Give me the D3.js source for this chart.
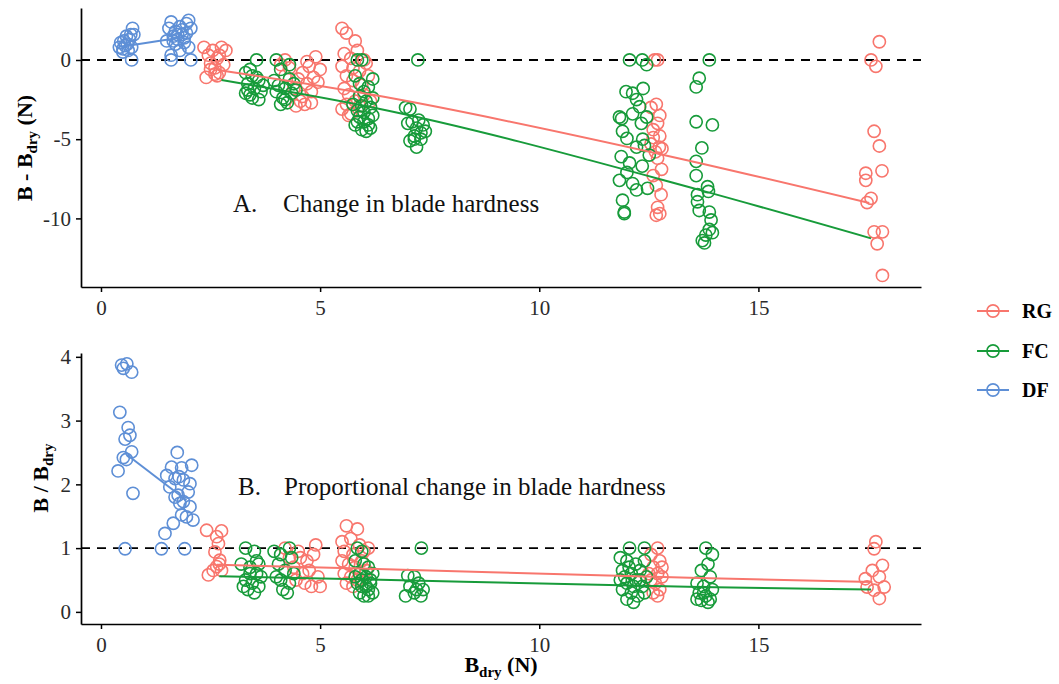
<!DOCTYPE html>
<html>
<head>
<meta charset="utf-8">
<script src="https://cdn.jsdelivr.net/npm/d3@7"></script>
<style>
  body { margin:0; background:#fff }
  text { font-family:"Liberation Serif","Times New Roman",serif }
</style>
</head>
<body>
<svg id="chart" width="1059" height="684"></svg>
<script>
// groups, in drawing order
var groups = ['RG', 'FC', 'DF']
var colors = { RG:'#f8766d', FC:'#179b3a', DF:'#5e8fd6' }

var xTicks  = [0, 5, 10, 15]
var yTicksA = [-10, -5, 0]
var yTicksB = [0, 1, 2, 3, 4]

// panel A: B - Bdry, [Bdry, change]
var rgChange = [
  [2.35,0.8],[2.45,0.3],[2.5,-0.2],[2.55,0.6],[2.6,-0.5],[2.65,0.1],[2.7,-0.8],[2.75,0.8],[2.4,-1.1],[2.6,-0.9],
  [2.7,0.3],[2.8,-0.3],[2.5,-0.6],[2.85,0.6],[2.65,-1.0],
  [4.1,-0.3],[4.2,-1.0],[4.3,-0.5],[4.4,-1.8],[4.5,-1.2],[4.55,-2.6],[4.6,-0.8],[4.65,-2.8],[4.7,-1.5],[4.75,-0.4],
  [4.8,-2.0],[4.85,-1.1],[4.9,0.2],[4.95,-1.4],[5.0,-0.6],[4.6,-2.3],[4.45,-2.9],[4.8,-2.7],[4.2,0.0],[4.7,-0.1],
  [5.5,2.0],[5.6,1.7],[5.8,1.2],[5.55,0.4],[5.7,0.1],[5.85,0.6],[5.5,-0.4],[5.6,-1.0],[5.75,-1.3],[5.9,-0.7],
  [5.55,-1.8],[5.65,-2.2],[5.8,-2.6],[5.95,-1.6],[5.5,-3.1],[5.7,-3.4],[5.9,-2.9],[6.0,-2.2],[6.05,-0.2],[6.1,-1.0],
  [6.15,-2.6],[5.6,-2.8],[5.75,-0.5],[6.0,0.0],[5.65,-3.5],
  [12.63,0.0],[12.7,0.0],[12.67,-2.8],[12.55,-3.0],[12.75,-3.5],[12.7,-4.0],[12.6,-4.4],[12.75,-4.8],[12.74,-5.5],[12.55,-5.3],
  [12.65,-5.8],[12.7,-6.2],[12.79,-6.9],[12.6,-7.3],[12.67,-7.9],[12.78,-8.5],[12.7,-9.3],[12.67,-9.8],[12.75,-9.7],[12.6,-4.9],
  [12.8,-5.6],
  [17.76,1.15],[17.57,0.0],[17.68,-0.4],[17.64,-4.5],[17.76,-5.43],[17.82,-7.0],[17.45,-7.15],[17.45,-7.6],[17.57,-8.73],[17.48,-9.0],
  [17.83,-10.85],[17.64,-10.85],[17.71,-11.6],[17.83,-13.6]
]
var fcChange = [
  [3.3,-0.8],[3.35,-1.5],[3.4,-2.2],[3.45,-1.0],[3.5,-1.8],[3.55,0.0],[3.6,-1.3],[3.65,-2.0],[3.45,-2.4],[3.3,-2.1],
  [3.55,-1.1],[3.7,-1.6],[3.4,-0.6],[3.6,-2.5],[3.35,-1.9],
  [3.95,-1.3],[4.0,-2.0],[4.05,-1.6],[4.1,-0.6],[4.15,-2.4],[4.2,-1.8],[4.25,-2.7],[4.3,-1.2],[4.35,-2.1],[4.4,-1.5],
  [4.1,-2.8],[4.3,-0.3],[4.0,0.0],[4.2,-2.5],[4.45,-1.9],
  [5.85,0.0],[5.95,0.0],[5.8,-1.0],[5.9,-1.5],[6.0,-2.0],[6.1,-1.7],[6.05,-2.6],[5.95,-2.9],[5.85,-3.2],[6.15,-3.0],
  [6.2,-3.5],[5.9,-3.6],[6.0,-3.9],[6.1,-4.1],[5.8,-4.1],[5.95,-4.4],[6.05,-4.5],[6.15,-4.3],[6.2,-2.4],[5.75,-2.8],
  [6.1,-3.7],[5.9,-2.3],[6.0,-3.3],[5.85,-3.9],[6.2,-1.2],
  [6.95,-3.0],[7.05,-3.1],[7.1,-3.9],[7.2,-4.3],[7.3,-4.6],[7.15,-4.8],[7.05,-5.1],[7.2,-5.5],[7.35,-4.1],[7.4,-4.5],
  [7.25,-3.8],[7.0,-4.0],[7.15,-5.0],[7.3,-5.0],[7.23,0.0],
  [12.06,0.0],[12.35,0.0],[12.45,-0.3],[11.98,-2.0],[12.13,-2.1],[12.37,-1.8],[12.22,-2.5],[12.29,-2.95],[12.13,-3.4],[11.88,-3.7],
  [12.45,-3.6],[12.33,-4.0],[11.9,-4.5],[12.0,-4.95],[12.36,-5.0],[12.22,-5.5],[12.51,-6.0],[11.87,-6.1],[12.06,-6.5],[11.83,-7.6],
  [12.13,-7.8],[12.47,-8.1],[11.9,-8.85],[11.94,-9.6],[12.22,-8.2],[12.0,-7.1],[12.35,-6.7],[11.83,-3.6],[11.94,-9.7],[12.4,-5.4],
  [13.88,0.0],[13.65,-1.15],[13.58,-1.7],[13.58,-3.9],[13.95,-4.1],[13.71,-5.55],[13.58,-6.4],[13.58,-7.3],[13.84,-8.0],[13.86,-8.3],
  [13.61,-8.95],[13.65,-9.5],[13.88,-9.6],[13.92,-10.1],[13.88,-10.7],[13.72,-11.4],[13.77,-11.55],[13.8,-11.05],[13.95,-10.9],[13.61,-8.5]
]
var dfChange = [
  [0.42,0.8],[0.45,1.1],[0.5,0.7],[0.52,1.2],[0.55,0.9],[0.58,1.5],[0.6,1.0],[0.62,0.6],[0.65,1.3],[0.68,1.6],
  [0.7,0.8],[0.72,2.0],[0.75,1.6],[0.7,0.0],[0.5,0.5],
  [1.5,1.2],[1.55,2.0],[1.6,2.4],[1.6,0.3],[1.6,0.0],[1.65,1.5],[1.7,1.0],[1.7,1.8],[1.75,1.3],[1.8,2.1],
  [1.8,0.6],[1.85,1.6],[1.9,1.1],[1.95,2.3],[1.95,1.7],[2.0,2.5],[2.0,0.8],[2.05,2.0],[2.05,0.0],[1.75,1.6],
  [1.85,1.9],[1.65,1.2],[1.9,1.4]
]
var rgFitA = [[2.67,-0.63],[6.2,-2.2],[13.04,-6.12],[17.53,-9.03]]
var fcFitA = [[2.75,-1.26],[6.2,-3.0],[13.65,-8.2],[17.57,-11.26]]
var dfFitA = [[0.5,0.85],[1.9,1.45]]

// panel B: B / Bdry, [Bdry, ratio]
var rgRatio = [
  [2.41,1.28],[2.75,1.27],[2.64,1.18],[2.68,1.07],[2.6,0.94],[2.71,0.81],[2.64,0.71],[2.56,0.65],[2.75,0.65],[2.45,0.58],
  [2.7,0.75],
  [4.2,1.0],[4.3,0.85],[4.4,0.7],[4.5,0.95],[4.6,0.6],[4.65,0.45],[4.7,0.8],[4.75,0.65],[4.8,0.4],[4.85,0.9],
  [4.9,1.05],[4.95,0.55],[5.0,0.4],[4.55,0.85],[4.45,0.5],
  [5.6,1.35],[5.85,1.3],[5.5,1.1],[5.7,1.15],[5.9,1.05],[5.55,0.95],[5.75,0.9],[6.0,0.95],[5.5,0.8],[5.65,0.75],
  [5.8,0.7],[5.95,0.8],[5.55,0.6],[5.7,0.55],[5.85,0.5],[6.05,0.65],[5.6,0.45],[5.75,0.4],[6.1,1.0],[5.9,0.6],
  [12.7,1.0],[12.55,0.9],[12.75,0.8],[12.6,0.7],[12.7,0.6],[12.8,0.55],[12.55,0.5],[12.65,0.45],[12.75,0.35],[12.6,0.3],
  [12.7,0.25],[12.8,0.7],[12.5,0.6],
  [17.68,1.1],[17.64,0.99],[17.83,0.73],[17.6,0.65],[17.44,0.52],[17.76,0.55],[17.87,0.39],[17.48,0.39],[17.64,0.34],[17.76,0.21]
]
var fcRatio = [
  [3.3,1.0],[3.5,0.95],[3.2,0.75],[3.4,0.7],[3.6,0.75],[3.55,0.6],[3.3,0.5],[3.45,0.45],[3.65,0.55],[3.35,0.35],
  [3.5,0.3],[3.25,0.4],[3.6,0.4],[3.4,0.6],[3.55,0.8],
  [3.95,0.95],[4.05,0.75],[4.1,0.5],[4.15,0.35],[4.2,0.65],[4.3,0.45],[4.35,0.85],[4.25,0.3],[4.0,0.55],[4.4,0.6],
  [4.1,0.9],[4.3,1.0],
  [5.85,1.0],[5.95,0.95],[5.8,0.8],[6.0,0.75],[6.1,0.7],[5.9,0.6],[6.05,0.55],[6.15,0.5],[5.85,0.45],[5.95,0.4],
  [6.1,0.35],[6.2,0.3],[5.9,0.3],[6.0,0.25],[6.15,0.45],[5.8,0.55],[6.2,0.6],[6.05,0.4],[5.95,0.5],[6.1,0.25],
  [7.0,0.57],[7.15,0.55],[7.05,0.4],[7.25,0.45],[7.35,0.35],[6.95,0.25],[7.15,0.3],[7.3,0.25],[7.2,0.35],[7.31,1.0],
  [12.06,1.0],[12.4,1.0],[11.85,0.85],[12.0,0.8],[12.2,0.75],[12.4,0.8],[11.9,0.65],[12.1,0.6],[12.3,0.65],[12.45,0.55],
  [11.85,0.5],[12.0,0.45],[12.2,0.5],[12.35,0.4],[11.9,0.35],[12.1,0.3],[12.25,0.25],[12.4,0.3],[12.0,0.2],[12.15,0.15],
  [11.95,0.55],[12.3,0.5],[12.15,0.4],[12.05,0.7],
  [13.8,1.0],[13.95,0.9],[13.85,0.75],[13.7,0.65],[13.9,0.55],[13.6,0.45],[13.75,0.4],[13.95,0.35],[13.65,0.3],[13.8,0.25],
  [13.9,0.2],[13.7,0.18],[13.85,0.15],[13.6,0.2],[13.75,0.3]
]
var dfRatio = [
  [0.47,3.87],[0.59,3.89],[0.51,3.82],[0.7,3.76],[0.43,3.13],[0.62,2.89],[0.66,2.77],[0.55,2.71],[0.7,2.51],[0.51,2.42],
  [0.58,2.39],[0.39,2.21],[0.73,1.86],[0.55,0.99],
  [1.74,2.5],[1.61,2.27],[1.84,2.26],[2.07,2.3],[1.5,2.14],[1.69,2.09],[1.88,2.07],[2.03,2.01],[1.57,1.96],[1.99,1.88],
  [1.69,1.8],[1.88,1.73],[2.03,1.65],[1.8,1.7],[1.95,1.49],[2.1,1.44],[1.84,1.52],[1.65,1.39],[1.46,1.23],[1.38,0.99],
  [1.91,0.99],[1.76,1.83],[1.78,2.12]
]
var rgFitB = [[2.64,0.74],[5.9,0.68],[13.65,0.53],[17.6,0.47]]
var fcFitB = [[2.7,0.56],[5.9,0.51],[13.65,0.39],[17.57,0.35]]
var dfFitB = [[0.6,2.46],[1.95,1.75]]

var svg = d3.select('#chart')

var x = d3.scaleLinear().domain([-0.456, 18.71]).range([81, 921])

var panels = [
  { top:8,   bottom:287, domain:[-14.33, 3.28], ticks:yTicksA, ref:0, titleX:32, titleY:148,
    points:{ RG:rgChange, FC:fcChange, DF:dfChange }, fits:{ RG:rgFitA, FC:fcFitA, DF:dfFitA },
    title:['B - B', 'dry', ' (N)'], note:['A.', 'Change in blade hardness'], noteX:[233, 283], noteY:212 },
  { top:353, bottom:624, domain:[-0.19, 4.06], ticks:yTicksB, ref:1, titleX:48, titleY:478,
    points:{ RG:rgRatio, FC:fcRatio, DF:dfRatio }, fits:{ RG:rgFitB, FC:fcFitB, DF:dfFitB },
    title:['B / B', 'dry', ''], note:['B.', 'Proportional change in blade hardness'], noteX:[238, 284], noteY:495 }
]

panels.forEach(p=> {
    var y = d3.scaleLinear().domain(p.domain).range([p.bottom, p.top])
    var g = svg.append('g')

    // reference line
    g.append('line')
        .attr('x1', x.range()[0]).attr('x2', x.range()[1])
        .attr('y1', y(p.ref)).attr('y2', y(p.ref))
        .attr('stroke', '#000').attr('stroke-width', 1.9)
        .attr('stroke-dasharray', '9,7')

    groups.forEach(k=> {
        g.append('g').selectAll('circle')
            .data(p.points[k])
            .join('circle')
            .attr('cx', d=> x(d[0]))
            .attr('cy', d=> y(d[1]))
            .attr('r', 6.1)
            .attr('fill', 'none')
            .attr('stroke', colors[k])
            .attr('stroke-width', 1.6)
    })

    groups.forEach(k=> {
        g.append('path')
            .attr('d', d3.line().curve(d3.curveMonotoneX).x(d=> x(d[0])).y(d=> y(d[1]))(p.fits[k]))
            .attr('fill', 'none')
            .attr('stroke', colors[k])
            .attr('stroke-width', 2)
    })

    // axes
    var ax = g.append('g')
        .attr('transform', 'translate(0,' + p.bottom + ')')
        .call(d3.axisBottom(x).tickValues(xTicks).tickSize(5).tickSizeOuter(0).tickPadding(8).tickFormat(d=> String(d)))
    var ay = g.append('g')
        .attr('transform', 'translate(' + x.range()[0] + ',0)')
        .call(d3.axisLeft(y).tickValues(p.ticks).tickSize(5).tickSizeOuter(0).tickPadding(5).tickFormat(d=> String(d)))
    ;[ax, ay].forEach(a=> {
        a.select('.domain').attr('stroke', '#000').attr('stroke-width', 1.7)
        a.selectAll('.tick line').attr('stroke', '#000').attr('stroke-width', 1.5)
        a.selectAll('.tick text')
            .attr('fill', '#2b2b2b')
            .style('font-size', '21px')
            .style('font-family', '"Liberation Serif","Times New Roman",serif')
    })

    // y title
    var t = g.append('text')
        .attr('transform', 'translate(' + p.titleX + ',' + p.titleY + ') rotate(-90)')
        .attr('text-anchor', 'middle')
        .style('font-size', '22px')
        .style('font-weight', 'bold')
    t.append('tspan').text(p.title[0])
    t.append('tspan').attr('dy', 5).style('font-size', '15px').text(p.title[1])
    if (p.title[2]) t.append('tspan').attr('dy', -5).text(p.title[2])

    // annotation
    p.note.forEach((s, i)=> {
        g.append('text')
            .attr('x', p.noteX[i]).attr('y', p.noteY)
            .style('font-size', '25px')
            .attr('fill', '#111')
            .text(s)
    })
})

// x title
var xt = svg.append('text')
    .attr('x', 501).attr('y', 672)
    .attr('text-anchor', 'middle')
    .style('font-size', '22px')
    .style('font-weight', 'bold')
xt.append('tspan').text('B')
xt.append('tspan').attr('dy', 5).style('font-size', '15px').text('dry')
xt.append('tspan').attr('dy', -5).text(' (N)')

// legend
var legendY = [311, 351, 390]
var lg = svg.append('g')
groups.forEach((k, i)=> {
    var row = lg.append('g').attr('transform', 'translate(0,' + legendY[i] + ')')
    row.append('line').attr('x1', 977).attr('x2', 1009)
        .attr('stroke', colors[k]).attr('stroke-width', 2)
    row.append('circle').attr('cx', 993).attr('r', 6.1)
        .attr('fill', 'none').attr('stroke', colors[k]).attr('stroke-width', 1.6)
    row.append('text').attr('x', 1022).attr('y', 7)
        .style('font-size', '20px').style('font-weight', 'bold')
        .text(k)
})
</script>
</body>
</html>
